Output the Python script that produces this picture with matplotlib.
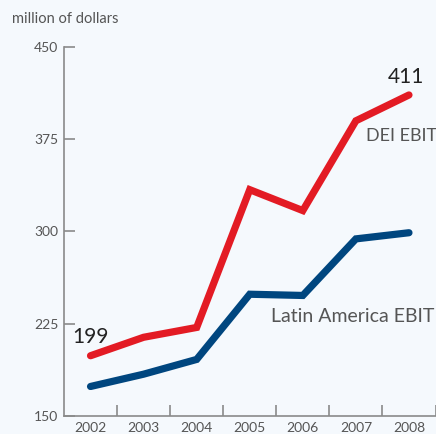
import matplotlib.pyplot as plt
import numpy as np

years = ["2002", "2003", "2004", "2005", "2006", "2007", "2008"]
dei_ebit = [199, 214, 222, 334, 317, 390, 411]
latam_ebit = [174, 184, 196, 249, 248, 294, 299]
y_ticks = [150, 225, 300, 375, 450]

bg = "#f5f9fd"
red = "#e31b24"
blue = "#00467f"
axis_gray = "#8a8a8a"
text_gray = "#555555"

plt.rcParams["font.family"] = ["Lato", "DejaVu Sans"]

fig = plt.figure(figsize=(4.36, 4.34), dpi=100, facecolor=bg)
W, H = 436, 434
ax = fig.add_axes([64 / W, (H - 416) / H, (435.5 - 64) / W, (416 - 47) / H])
ax.set_facecolor(bg)

x = np.arange(len(years))
ax.plot(x, dei_ebit, color=red, lw=5.2, solid_capstyle="round", solid_joinstyle="miter")
ax.plot(x, latam_ebit, color=blue, lw=5.2, solid_capstyle="round", solid_joinstyle="miter")

ax.set_xlim(-0.5, len(years) - 0.5)
ax.set_ylim(150, 450)

for s in ["top", "right"]:
    ax.spines[s].set_visible(False)
for s in ["left", "bottom"]:
    ax.spines[s].set_color(axis_gray)
    ax.spines[s].set_linewidth(1.2)

ax.set_yticks(y_ticks)
ax.set_yticklabels([str(v) for v in y_ticks])
ax.tick_params(axis="y", direction="in", length=8, width=1.2, color=axis_gray,
               labelcolor=text_gray, labelsize=10, pad=4)

# year labels centred under each point, tick marks between years
ax.set_xticks(x)
ax.set_xticklabels(years)
ax.tick_params(axis="x", which="major", length=0, labelcolor=text_gray, labelsize=10, pad=4)
ax.set_xticks(np.arange(0.5, len(years), 1.0), minor=True)
ax.tick_params(axis="x", which="minor", direction="in", length=8, width=1.2, color=axis_gray)

fig.text(12 / W, 1 - 19 / H, "million of dollars", color=text_gray, fontsize=10.5,
         ha="left", va="center")

ax.annotate(str(dei_ebit[0]), (x[0], dei_ebit[0]), xytext=(-13, 6), textcoords="offset points",
            ha="left", va="bottom", fontsize=15, color="#222222")
ax.annotate(str(dei_ebit[-1]), (x[-1], dei_ebit[-1]), xytext=(-15, 6), textcoords="offset points",
            ha="left", va="bottom", fontsize=15, color="#222222")
ax.annotate("DEI EBIT", (x[-1], dei_ebit[-1]), xytext=(20, -24), textcoords="offset points",
            ha="right", va="top", fontsize=13, color=text_gray)
ax.annotate("Latin America EBIT", (x[-1], latam_ebit[-1]), xytext=(18, -54), textcoords="offset points",
            ha="right", va="top", fontsize=14, color=text_gray)

fig.savefig("out.png", dpi=100, facecolor=bg)
